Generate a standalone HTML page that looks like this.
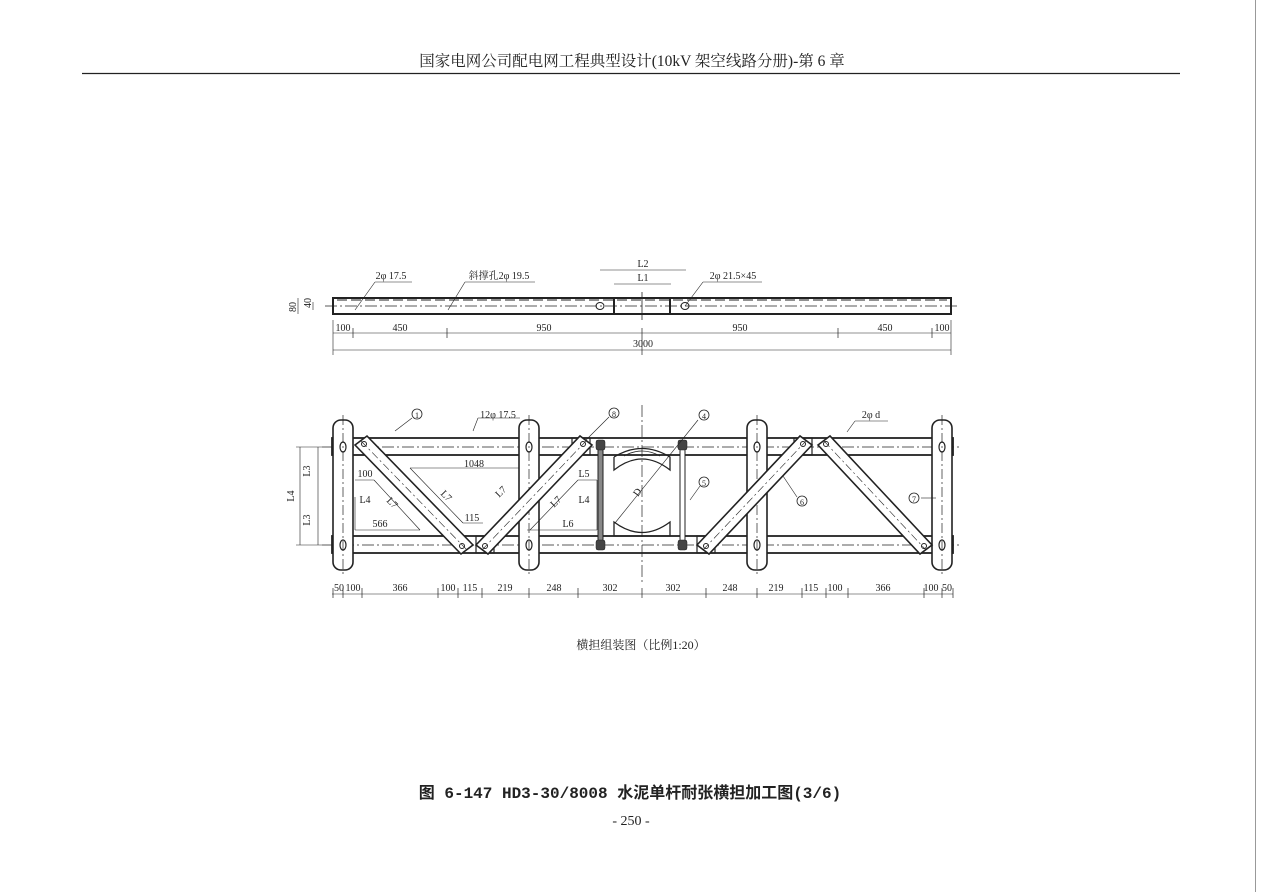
<!DOCTYPE html>
<html><head><meta charset="utf-8"><style>
html,body{margin:0;padding:0;background:#fff;}
svg{display:block;}
text{font-family:"Liberation Serif","Noto Serif CJK SC","Noto Sans CJK SC",serif;fill:#222;}
</style></head><body>
<svg width="1262" height="892" viewBox="0 0 1262 892" xmlns="http://www.w3.org/2000/svg">
<rect x="0" y="0" width="1262" height="892" fill="#fff"/>
<line x1="1255.5" y1="0" x2="1255.5" y2="892" stroke="#999" stroke-width="1"/>
<text x="632" y="66" font-size="15.5" text-anchor="middle">国家电网公司配电网工程典型设计(10kV 架空线路分册)-第 6 章</text>
<line x1="82" y1="73.5" x2="1180" y2="73.5" stroke="#222" stroke-width="1.2"/>

<!-- TOP VIEW -->
<g stroke="#222" fill="none">
<rect x="333" y="298" width="618" height="16" stroke-width="2"/>
<line x1="614" y1="298" x2="614" y2="314" stroke-width="2"/>
<line x1="670" y1="298" x2="670" y2="314" stroke-width="2"/>
<line x1="325" y1="306" x2="960" y2="306" stroke-width="0.8" stroke-dasharray="12,3,2,3"/>
<line x1="642" y1="292" x2="642" y2="320" stroke-width="0.8"/>
<line x1="337" y1="300" x2="947" y2="300" stroke-width="1" stroke-dasharray="10,4"/>
<ellipse cx="600" cy="306" rx="4" ry="3.5"/>
<ellipse cx="685" cy="306" rx="4" ry="3.5"/>
<g stroke-width="0.6">
<line x1="355" y1="310" x2="375" y2="282"/><line x1="375" y1="282" x2="412" y2="282"/>
<line x1="448" y1="310" x2="465" y2="282"/><line x1="465" y1="282" x2="535" y2="282"/>
<line x1="685" y1="306" x2="703" y2="282"/><line x1="703" y1="282" x2="762" y2="282"/>
<line x1="600" y1="270" x2="686" y2="270"/>
<line x1="614" y1="284" x2="671" y2="284"/>
<line x1="333" y1="333" x2="951" y2="333"/>
<line x1="333" y1="350" x2="951" y2="350"/>
<line x1="333" y1="320" x2="333" y2="355"/>
<line x1="951" y1="320" x2="951" y2="355"/>
<line x1="298" y1="298" x2="298" y2="314"/>
<line x1="313" y1="302" x2="313" y2="310"/>
</g>
</g>
<g font-size="10" text-anchor="middle">
<text x="391" y="279">2φ 17.5</text>
<text x="499" y="279">斜撑孔2φ 19.5</text>
<text x="733" y="279">2φ 21.5×45</text>
<text x="643" y="267">L2</text>
<text x="643" y="281">L1</text>
<text x="343" y="331">100</text>
<text x="400" y="331">450</text>
<text x="544" y="331">950</text>
<text x="740" y="331">950</text>
<text x="885" y="331">450</text>
<text x="942" y="331">100</text>
<text x="643" y="347">3000</text>
<text x="296" y="307" transform="rotate(-90 296 307)">80</text>
<text x="311" y="303" transform="rotate(-90 311 303)">40</text>
</g>
<g stroke="#222" stroke-width="0.7">
<line x1="353" y1="328" x2="353" y2="338"/><line x1="447" y1="328" x2="447" y2="338"/>
<line x1="642" y1="328" x2="642" y2="355"/><line x1="838" y1="328" x2="838" y2="338"/>
<line x1="932" y1="328" x2="932" y2="338"/>
</g>

<!-- ASSEMBLY VIEW -->
<g stroke="#222" fill="none">
<rect x="332" y="438" width="621" height="17" stroke-width="1.8"/>
<rect x="332" y="536" width="621" height="17" stroke-width="1.8"/>
<line x1="322" y1="447" x2="962" y2="447" stroke-width="0.7" stroke-dasharray="12,3,2,3"/>
<line x1="322" y1="545" x2="962" y2="545" stroke-width="0.7" stroke-dasharray="12,3,2,3"/>
<line x1="642" y1="405" x2="642" y2="582" stroke-width="0.7" stroke-dasharray="12,3,2,3"/>
<g stroke-width="1.6" fill="#fff">
<rect x="333" y="420" width="20" height="150" rx="8"/>
<rect x="519" y="420" width="20" height="150" rx="8"/>
<rect x="747" y="420" width="20" height="150" rx="8"/>
<rect x="932" y="420" width="20" height="150" rx="8"/>
</g>
<g stroke-width="0.7" stroke-dasharray="10,3,2,3">
<line x1="343" y1="415" x2="343" y2="575"/><line x1="529" y1="415" x2="529" y2="575"/>
<line x1="757" y1="415" x2="757" y2="575"/><line x1="942" y1="415" x2="942" y2="575"/>
</g>
<g stroke-width="1.2">
<ellipse cx="343" cy="447" rx="3" ry="5"/><ellipse cx="343" cy="545" rx="3" ry="5"/>
<ellipse cx="529" cy="447" rx="3" ry="5"/><ellipse cx="529" cy="545" rx="3" ry="5"/>
<ellipse cx="757" cy="447" rx="3" ry="5"/><ellipse cx="757" cy="545" rx="3" ry="5"/>
<ellipse cx="942" cy="447" rx="3" ry="5"/><ellipse cx="942" cy="545" rx="3" ry="5"/>
</g>
<rect x="572" y="438" width="18" height="17" stroke-width="1.2"/>
<rect x="476" y="536" width="18" height="17" stroke-width="1.2"/>
<rect x="794" y="438" width="18" height="17" stroke-width="1.2"/>
<rect x="697" y="536" width="18" height="17" stroke-width="1.2"/>
<g stroke-width="1.6" fill="#fff">
<polygon points="355,445 367,436 473,545 461,554"/>
<polygon points="476,545 488,554 592,445 580,436"/>
<polygon points="697,545 709,554 812,445 800,436"/>
<polygon points="818,445 830,436 932,545 920,554"/>
</g>
<g stroke-width="0.6" stroke-dasharray="8,3,2,3">
<line x1="361" y1="441" x2="467" y2="550"/><line x1="482" y1="550" x2="586" y2="441"/>
<line x1="703" y1="550" x2="806" y2="441"/><line x1="824" y1="441" x2="926" y2="550"/>
</g>
<g stroke-width="1">
<circle cx="364" cy="444" r="2.5"/><circle cx="462" cy="546" r="2.5"/>
<circle cx="485" cy="546" r="2.5"/><circle cx="583" cy="444" r="2.5"/>
<circle cx="706" cy="546" r="2.5"/><circle cx="803" cy="444" r="2.5"/>
<circle cx="826" cy="444" r="2.5"/><circle cx="924" cy="546" r="2.5"/>
</g>
<rect x="598" y="441" width="5" height="108" fill="#888" stroke-width="1"/>
<rect x="680" y="441" width="5" height="108" fill="#fff" stroke-width="1"/>
<g fill="#444" stroke-width="0.5">
<rect x="596" y="440" width="9" height="10" rx="2"/><rect x="596" y="540" width="9" height="10" rx="2"/>
<rect x="678" y="440" width="9" height="10" rx="2"/><rect x="678" y="540" width="9" height="10" rx="2"/>
</g>
<path d="M614,457 L614,470 Q642,448 670,470 L670,457 Q642,440 614,457" stroke-width="1.3"/>
<path d="M614,536 L614,522 Q642,543 670,522 L670,536 Z" stroke-width="1.3"/>
<path d="M624,456 Q642,446 660,456" stroke-width="0.8"/>
<g stroke-width="0.6">
<line x1="355" y1="497" x2="355" y2="530"/><line x1="355" y1="530" x2="420" y2="530"/><line x1="355" y1="480" x2="374" y2="480"/><line x1="374" y1="480" x2="420" y2="530"/>
<line x1="410" y1="468" x2="519" y2="468"/><line x1="410" y1="468" x2="463" y2="523"/><line x1="463" y1="523" x2="483" y2="523"/>
<line x1="578" y1="480" x2="597" y2="480"/><line x1="597" y1="480" x2="597" y2="530"/><line x1="527" y1="530" x2="597" y2="530"/><line x1="578" y1="480" x2="530" y2="530"/>
<line x1="395" y1="431" x2="412" y2="418"/><line x1="473" y1="431" x2="478" y2="418"/><line x1="478" y1="418" x2="520" y2="418"/>
<line x1="586" y1="440" x2="609" y2="417"/><line x1="615" y1="523" x2="698" y2="420"/>
<line x1="690" y1="500" x2="700" y2="486"/><line x1="783" y1="476" x2="797" y2="497"/>
<line x1="847" y1="432" x2="855" y2="421"/><line x1="855" y1="421" x2="888" y2="421"/>
<line x1="921" y1="498" x2="936" y2="498"/>
<line x1="300" y1="447" x2="300" y2="545"/><line x1="318" y1="447" x2="318" y2="545"/>
<line x1="296" y1="447" x2="322" y2="447"/><line x1="296" y1="545" x2="322" y2="545"/>
<line x1="332" y1="594" x2="953" y2="594"/>
</g>
<g stroke-width="0.8">
<circle cx="417" cy="414" r="5"/><circle cx="614" cy="413" r="5"/><circle cx="704" cy="415" r="5"/>
<circle cx="704" cy="482" r="5"/><circle cx="802" cy="501" r="5"/><circle cx="914" cy="498" r="5"/>
</g>
<g stroke-width="0.7">
<line x1="333" y1="588" x2="333" y2="598"/><line x1="343" y1="588" x2="343" y2="598"/>
<line x1="362" y1="588" x2="362" y2="598"/><line x1="438" y1="588" x2="438" y2="598"/>
<line x1="458" y1="588" x2="458" y2="598"/><line x1="482" y1="588" x2="482" y2="598"/>
<line x1="529" y1="588" x2="529" y2="598"/><line x1="578" y1="588" x2="578" y2="598"/>
<line x1="642" y1="588" x2="642" y2="598"/><line x1="706" y1="588" x2="706" y2="598"/>
<line x1="757" y1="588" x2="757" y2="598"/><line x1="802" y1="588" x2="802" y2="598"/>
<line x1="826" y1="588" x2="826" y2="598"/><line x1="848" y1="588" x2="848" y2="598"/>
<line x1="924" y1="588" x2="924" y2="598"/><line x1="942" y1="588" x2="942" y2="598"/>
<line x1="953" y1="588" x2="953" y2="598"/>
</g>
</g>
<g font-size="10" text-anchor="middle">
<text x="417" y="418" font-size="8">1</text><text x="614" y="417" font-size="8">8</text>
<text x="704" y="419" font-size="8">4</text><text x="704" y="486" font-size="8">5</text>
<text x="802" y="505" font-size="8">6</text><text x="914" y="502" font-size="8">7</text>
<text x="498" y="418">12φ 17.5</text>
<text x="871" y="418">2φ d</text>
<text x="474" y="467">1048</text>
<text x="365" y="477">100</text>
<text x="365" y="503">L4</text>
<text x="380" y="527">566</text>
<text x="390" y="505" transform="rotate(45 390 505)">L7</text>
<text x="444" y="498" transform="rotate(45 444 498)">L7</text>
<text x="503" y="494" transform="rotate(-45 503 494)">L7</text>
<text x="472" y="521">115</text>
<text x="584" y="477">L5</text>
<text x="584" y="503">L4</text>
<text x="558" y="504" transform="rotate(-45 558 504)">L7</text>
<text x="568" y="527">L6</text>
<text x="640" y="494" transform="rotate(-55 640 494)">D</text>
<text x="310" y="471" transform="rotate(-90 310 471)">L3</text>
<text x="310" y="520" transform="rotate(-90 310 520)">L3</text>
<text x="294" y="496" transform="rotate(-90 294 496)">L4</text>
<text x="339" y="591">50</text><text x="353" y="591">100</text><text x="400" y="591">366</text>
<text x="448" y="591">100</text><text x="470" y="591">115</text><text x="505" y="591">219</text>
<text x="554" y="591">248</text><text x="610" y="591">302</text><text x="673" y="591">302</text>
<text x="730" y="591">248</text><text x="776" y="591">219</text><text x="811" y="591">115</text>
<text x="835" y="591">100</text><text x="883" y="591">366</text><text x="931" y="591">100</text>
<text x="947" y="591">50</text>
</g>
<text x="641" y="649" font-size="12" text-anchor="middle">横担组装图（比例1:20）</text>
<text x="630" y="798" font-size="16" font-weight="bold" text-anchor="middle" style="font-family:'Liberation Mono','Noto Sans CJK SC',monospace">图 6-147  HD3-30/8008 水泥单杆耐张横担加工图(3/6)</text>
<text x="631" y="825" font-size="14" text-anchor="middle">- 250 -</text>
</svg>
</body></html>
